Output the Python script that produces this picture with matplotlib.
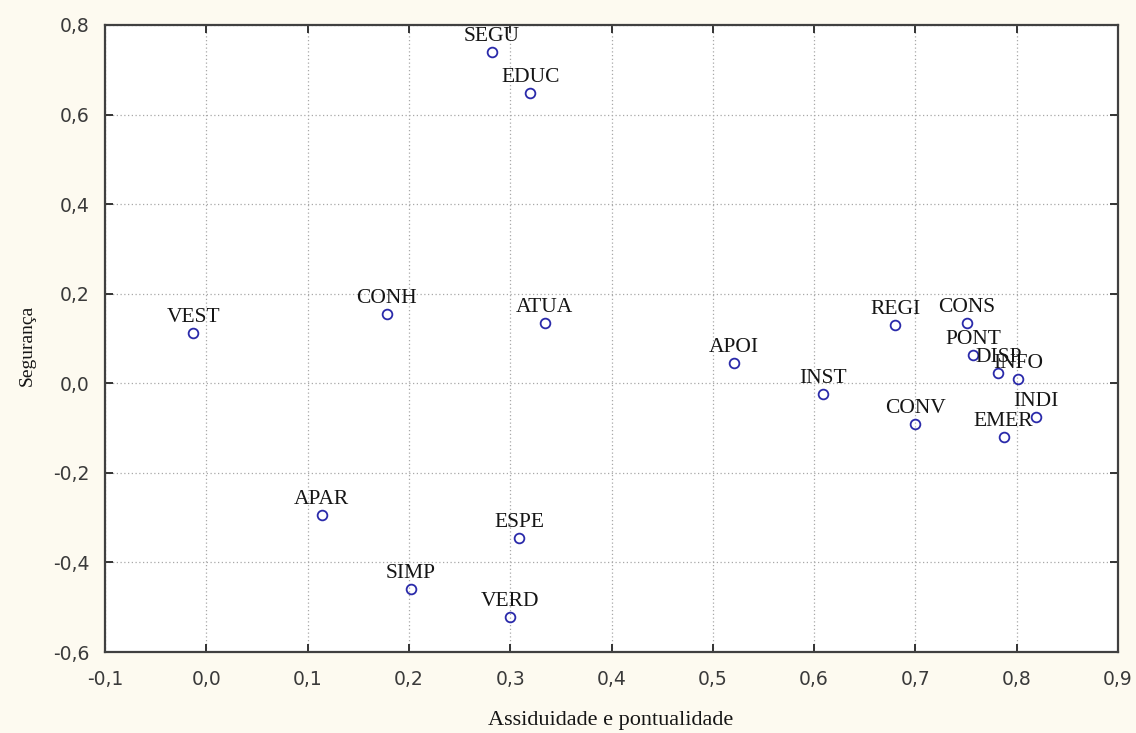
import matplotlib
matplotlib.use("Agg")
import matplotlib.pyplot as plt
from matplotlib.ticker import FixedLocator, FuncFormatter

labels = ["SEGU", "EDUC", "VEST", "CONH", "ATUA", "APOI", "INST", "REGI", "CONS",
          "PONT", "DISP", "INFO", "INDI", "EMER", "CONV", "APAR", "ESPE", "SIMP", "VERD"]
x_vals = [0.282, 0.320, -0.013, 0.178, 0.334, 0.521, 0.609, 0.680, 0.751,
          0.757, 0.782, 0.801, 0.819, 0.787, 0.700, 0.114, 0.309, 0.202, 0.300]
y_vals = [0.740, 0.648, 0.112, 0.154, 0.134, 0.045, -0.025, 0.130, 0.134,
          0.063, 0.022, 0.009, -0.076, -0.121, -0.092, -0.293, -0.346, -0.460, -0.521]
x_ticks = [-0.1, 0.0, 0.1, 0.2, 0.3, 0.4, 0.5, 0.6, 0.7, 0.8, 0.9]
y_ticks = [-0.6, -0.4, -0.2, 0.0, 0.2, 0.4, 0.6, 0.8]
x_title = "Assiduidade e pontualidade"
y_title = "Segurança"

bg = "#FDFAF0"
fig = plt.figure(figsize=(11.36, 7.33), dpi=100, facecolor=bg)
ax = fig.add_axes([105/1136, 81/733, (1118-105)/1136, (652-25)/733])
ax.set_facecolor("white")

ax.plot(x_vals, y_vals, linestyle="none", marker="o", markersize=7,
        markerfacecolor="none", markeredgecolor="#2A2AAA", markeredgewidth=1.3, zorder=3)
for lab, xv, yv in zip(labels, x_vals, y_vals):
    ax.annotate(lab, (xv, yv), xytext=(0, 11), textcoords="offset pixels",
                ha="center", va="baseline", fontsize=15.5,
                family="Liberation Serif", color="#151515", zorder=4)

ax.set_xlim(-0.1, 0.9)
ax.set_ylim(-0.6, 0.8)
ax.xaxis.set_major_locator(FixedLocator(x_ticks))
ax.yaxis.set_major_locator(FixedLocator(y_ticks))
fmt = FuncFormatter(lambda v, p: f"{v:.1f}".replace(".", ",").replace("-0,0", "0,0"))
ax.xaxis.set_major_formatter(fmt)
ax.yaxis.set_major_formatter(fmt)
ax.grid(True, linestyle=(0, (1, 2)), color="#A8A8A8", linewidth=0.9)
ax.set_axisbelow(True)
ax.tick_params(direction="in", length=6, width=1.4, color="#333333",
               top=True, right=True, labelsize=13.5, labelcolor="#3a3a3a")
ax.tick_params(axis="x", pad=13)
ax.tick_params(axis="y", pad=11)
for lbl in ax.get_xticklabels() + ax.get_yticklabels():
    lbl.set_family("DejaVu Sans")
for s in ax.spines.values():
    s.set_color("#404040")
    s.set_linewidth(1.6)

fig.text(611/1136, 1 - 720/733, x_title, ha="center", va="center",
         fontsize=16, family="Liberation Serif", color="#151515")
fig.text(27/1136, 1 - 345/733, y_title, ha="center", va="center", rotation=90,
         fontsize=14, family="Liberation Serif", color="#151515")

fig.savefig("out.png", dpi=100, facecolor=bg)
